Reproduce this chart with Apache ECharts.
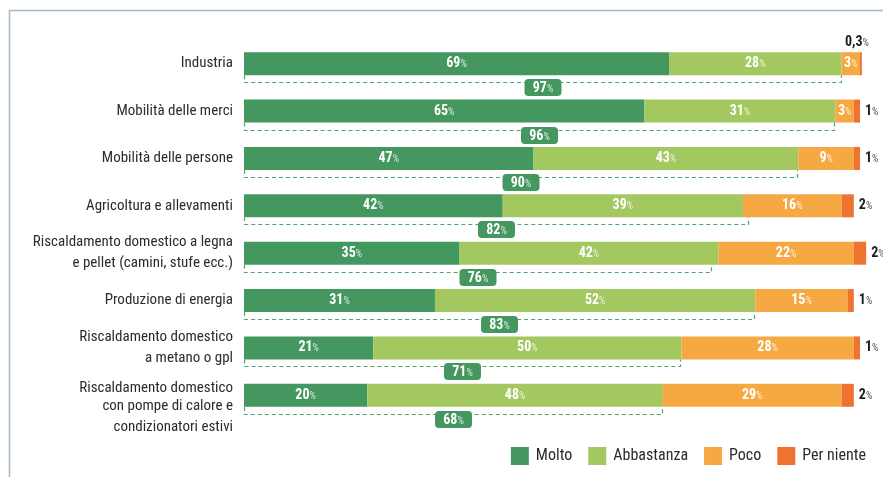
<!DOCTYPE html>
<html>
<head>
<meta charset="utf-8">
<script src="https://cdn.jsdelivr.net/npm/echarts@6/dist/echarts.min.js"></script>
<style>
  html, body { margin: 0; padding: 0; background: #fff; }
  #chart { width: 883px; height: 477px; }
</style>
</head>
<body>
<div id="chart"></div>
<script>
// Sectors, top to bottom
const categories = [
  'Industria',
  'Mobilità delle merci',
  'Mobilità delle persone',
  'Agricoltura e allevamenti',
  'Riscaldamento domestico a legna\ne pellet (camini, stufe ecc.)',
  'Produzione di energia',
  'Riscaldamento domestico\na metano o gpl',
  'Riscaldamento domestico\ncon pompe di calore e\ncondizionatori estivi'
];
const seriesNames = ['Molto', 'Abbastanza', 'Poco', 'Per niente'];
const molto      = [69, 65, 47, 42, 35, 31, 21, 20];
const abbastanza = [28, 31, 43, 39, 42, 52, 50, 48];
const poco       = [3, 3, 9, 16, 22, 15, 28, 29];
const perNiente  = [0.3, 1, 1, 2, 2, 1, 1, 2];
// "Molto" + "Abbastanza" combined share
const combined   = [97, 96, 90, 82, 76, 83, 71, 68];

const colors = ['#44985f', '#a3c85f', '#f6a942', '#ee7330'];
const FONT = '"Roboto Condensed", "DejaVu Sans Condensed", sans-serif';
const BAR_W = 23;

const fmt = v => String(v).replace('.', ',');

const insideLabel = {
  show: true,
  position: 'inside',
  formatter: p => '{n|' + fmt(p.value) + '}{p|%}',
  rich: {
    n: { fontFamily: FONT, fontSize: 14, fontWeight: 'bold', color: '#fff' },
    p: { fontFamily: FONT, fontSize: 10, color: 'rgba(255,255,255,0.78)', padding: [2, 0, 0, 0] }
  }
};

const outsideLabel = {
  show: true,
  position: 'right',
  distance: 5,
  formatter: p => '{n|' + fmt(p.value) + '}{p|%}',
  rich: {
    n: { fontFamily: FONT, fontSize: 14, fontWeight: 'bold', color: '#1a1a1a' },
    p: { fontFamily: FONT, fontSize: 10, color: '#555', padding: [2, 0, 0, 0] }
  }
};

function barSeries(name, values, idx, label) {
  return {
    name: name,
    type: 'bar',
    stack: 'tot',
    barWidth: BAR_W,
    clip: false,
    itemStyle: { color: colors[idx] },
    label: label,
    emphasis: { disabled: true },
    data: values
  };
}

const perNienteData = perNiente.map((v, i) => i === 0
  ? { value: v, label: { position: 'top', distance: 3, offset: [-4, 0] } }
  : v);

// dashed bracket under each bar with the combined share in a green tag
function renderBracket(params, api) {
  const idx = api.value(0);
  const val = api.value(1);
  const p0 = api.coord([0, idx]);
  const p1 = api.coord([val, idx]);
  const x0 = Math.round(p0[0]) + 0.5;
  const x1 = Math.round(p1[0]) - 0.5;
  const yb = p0[1] + BAR_W / 2;
  const y = Math.round(yb + 7) + 0.5;
  const cx = (x0 + x1) / 2;
  const bw = 37, bh = 17;
  return {
    type: 'group',
    children: [
      {
        type: 'polyline',
        shape: { points: [[x0, yb], [x0, y], [x1, y], [x1, yb]] },
        style: { stroke: '#55a26f', lineWidth: 1.2, lineDash: [4, 3], fill: null }
      },
      {
        type: 'rect',
        shape: { x: cx - bw / 2, y: y - 3.5, width: bw, height: bh, r: 4 },
        style: { fill: '#44985f' }
      },
      {
        type: 'text',
        style: {
          x: cx,
          y: y - 3.5 + bh / 2 + 0.5,
          align: 'center',
          verticalAlign: 'middle',
          text: '{n|' + val + '}{p|%}',
          rich: {
            n: { fontFamily: FONT, fontSize: 14, fontWeight: 'bold', fill: '#fff', color: '#fff' },
            p: { fontFamily: FONT, fontSize: 10, fill: 'rgba(255,255,255,0.78)', color: 'rgba(255,255,255,0.78)', padding: [2, 0, 0, 0] }
          }
        }
      }
    ]
  };
}

const chart = echarts.init(document.getElementById('chart'), null, { renderer: 'canvas' });

chart.setOption({
  animation: false,
  backgroundColor: '#fff',
  color: colors,
  grid: { left: 244, right: 23, top: 40, bottom: 58, containLabel: false, outerBoundsMode: 'none' },
  legend: {
    data: seriesNames,
    right: 17,
    top: 447,
    padding: 0,
    itemWidth: 18,
    itemHeight: 18,
    itemGap: 16,
    icon: 'rect',
    textStyle: { fontFamily: FONT, fontSize: 16, color: '#2b2b2b', padding: [0, 0, 0, 2] },
    selectedMode: false
  },
  xAxis: {
    type: 'value',
    min: 0,
    max: 100,
    show: false
  },
  yAxis: {
    type: 'category',
    inverse: true,
    data: categories,
    axisLine: { show: false },
    axisTick: { show: false },
    axisLabel: {
      margin: 11,
      align: 'right',
      showMinLabel: true,
      showMaxLabel: true,
      hideOverlap: false,
      interval: 0,
      // the three-line label hangs from the top of its bar
      formatter: (v, i) => i === categories.length - 1
        ? v.split('\n').map((l, k) => (k === 0 ? '{f|' : '{t|') + l + '}').join('\n')
        : v.split('\n').map(l => '{t|' + l + '}').join('\n'),
      rich: {
        t: { fontFamily: FONT, fontSize: 15, color: '#2b2b2b', lineHeight: 21 },
        f: { fontFamily: FONT, fontSize: 15, color: '#2b2b2b', lineHeight: 42, verticalAlign: 'bottom' }
      }
    }
  },
  graphic: [
    {
      type: 'polyline',
      silent: true,
      shape: { points: [[9.5, 477], [9.5, 10.5], [883, 10.5]] },
      style: { stroke: '#a3b8cb', lineWidth: 1.5, fill: null }
    }
  ],
  series: [
    barSeries('Molto', molto, 0, insideLabel),
    barSeries('Abbastanza', abbastanza, 1, insideLabel),
    barSeries('Poco', poco, 2, insideLabel),
    barSeries('Per niente', perNienteData, 3, outsideLabel),
    {
      name: 'combined',
      type: 'custom',
      renderItem: renderBracket,
      clip: false,
      silent: true,
      encode: { x: 1, y: 0 },
      data: combined.map((v, i) => [i, v]),
      z: 5
    }
  ]
});
</script>
</body>
</html>
